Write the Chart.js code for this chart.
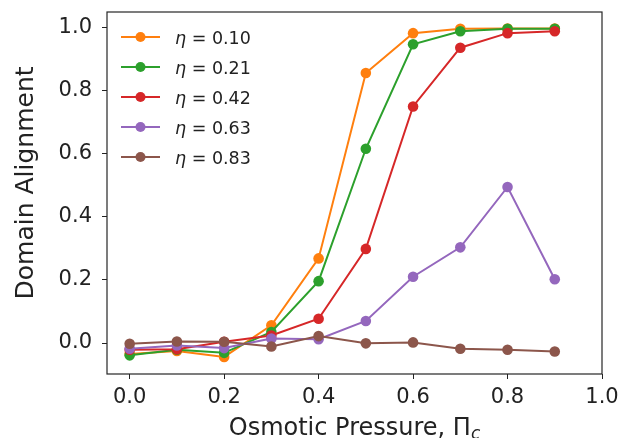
<!DOCTYPE html>
<html>
<head>
<meta charset="utf-8">
<script src="https://cdn.jsdelivr.net/npm/chart.js@4/dist/chart.umd.min.js"></script>
<style>
  html, body { margin: 0; padding: 0; background: #ffffff; }
  #wrap { width: 620px; height: 438px; }
</style>
</head>
<body>
<div id="wrap"><canvas id="c" width="620" height="438"></canvas></div>
<script>
// ---- data ----
const osmoticPressure = [0.0, 0.1, 0.2, 0.3, 0.4, 0.5, 0.6, 0.7, 0.8, 0.9];
const etaLabels = ['0.10', '0.21', '0.42', '0.63', '0.83'];
const eta010 = [-0.035, -0.025, -0.044, 0.056, 0.268, 0.855, 0.981, 0.995, 0.996, 0.996];
const eta021 = [-0.039, -0.021, -0.031, 0.035, 0.196, 0.615, 0.946, 0.987, 0.995, 0.995];
const eta042 = [-0.021, -0.020, 0.004, 0.024, 0.077, 0.298, 0.749, 0.935, 0.981, 0.987];
const eta063 = [-0.018, -0.008, -0.016, 0.014, 0.012, 0.070, 0.210, 0.303, 0.494, 0.202];
const eta083 = [-0.002, 0.005, 0.004, -0.011, 0.022, -0.001, 0.002, -0.018, -0.021, -0.027];
const xTicks = [0.0, 0.2, 0.4, 0.6, 0.8, 1.0];
const yTicks = [0.0, 0.2, 0.4, 0.6, 0.8, 1.0];
const xTitle = 'Osmotic Pressure, ';
const xTitleSymbol = 'Π';
const xTitleSub = 'c';
const yTitle = 'Domain Alignment';

const seriesValues = [eta010, eta021, eta042, eta063, eta083];
const seriesColors = ['#ff7f0e', '#2ca02c', '#d62728', '#9467bd', '#8c564b'];

const FONT = '"DejaVu Sans", sans-serif';

const datasets = seriesValues.map((vals, i) => ({
  label: 'η = ' + etaLabels[i],
  data: vals.map((v, j) => ({ x: osmoticPressure[j], y: v })),
  borderColor: seriesColors[i],
  backgroundColor: seriesColors[i],
  pointBackgroundColor: seriesColors[i],
  pointBorderColor: seriesColors[i],
  borderWidth: 2,
  pointRadius: 5.3,
  pointBorderWidth: 0,
  tension: 0,
  fill: false,
  order: seriesValues.length - i
}));

// frame + legend + axis titles
const decor = {
  id: 'decor',
  afterDraw(chart) {
    const ctx = chart.ctx;
    const a = chart.chartArea;
    ctx.save();
    // frame
    ctx.strokeStyle = '#262626';
    ctx.lineWidth = 1.2;
    ctx.strokeRect(a.left, a.top, a.right - a.left, a.bottom - a.top);

    // legend
    const x0 = a.left + 14, x1 = a.left + 53, tx = a.left + 68;
    const rowY0 = a.top + 25, rowH = 30;
    chart.data.datasets.forEach((ds, i) => {
      const y = rowY0 + i * rowH;
      ctx.strokeStyle = ds.borderColor;
      ctx.lineWidth = 2;
      ctx.beginPath(); ctx.moveTo(x0, y); ctx.lineTo(x1, y); ctx.stroke();
      ctx.fillStyle = ds.borderColor;
      ctx.beginPath(); ctx.arc((x0 + x1) / 2, y, 5, 0, Math.PI * 2); ctx.fill();
      ctx.fillStyle = '#222';
      ctx.textBaseline = 'alphabetic';
      ctx.textAlign = 'left';
      const parts = ds.label.split(' = ');
      ctx.font = 'oblique 17.5px ' + FONT;
      ctx.fillText(parts[0], tx, y + 6.5);
      const w = ctx.measureText(parts[0]).width;
      ctx.font = '17.5px ' + FONT;
      ctx.fillText(' = ' + parts[1], tx + w, y + 6.5);
    });

    // x title
    ctx.fillStyle = '#222';
    ctx.textBaseline = 'alphabetic';
    ctx.textAlign = 'left';
    ctx.font = '24px ' + FONT;
    const w1 = ctx.measureText(xTitle).width;
    const w2 = ctx.measureText(xTitleSymbol).width;
    ctx.font = 'oblique 17px ' + FONT;
    const w3 = ctx.measureText(xTitleSub).width;
    const total = w1 + w2 + w3;
    let sx = (a.left + a.right) / 2 - total / 2;
    ctx.font = '24px ' + FONT;
    ctx.fillText(xTitle, sx, 434.5);
    ctx.fillText(xTitleSymbol, sx + w1, 434.5);
    ctx.font = 'oblique 17px ' + FONT;
    ctx.fillText(xTitleSub, sx + w1 + w2, 439);

    // y title
    ctx.translate(33, 183);
    ctx.rotate(-Math.PI / 2);
    ctx.font = '25px ' + FONT;
    ctx.textAlign = 'center';
    ctx.fillText(yTitle, 0, 0);
    ctx.restore();
  }
};

new Chart(document.getElementById('c'), {
  type: 'line',
  data: { datasets },
  options: {
    responsive: false,
    animation: false,
    devicePixelRatio: 1,
    layout: { padding: { left: 0, right: 18, top: 12, bottom: 0 } },
    plugins: { legend: { display: false }, tooltip: { enabled: false } },
    scales: {
      x: {
        type: 'linear',
        min: -0.048,
        max: 1.0,
        afterFit(scale) {
          scale.height = 64;
          scale.paddingLeft = 0; scale.paddingRight = 0;
        },
        afterBuildTicks(scale) { scale.ticks = xTicks.map(v => ({ value: v })); },
        grid: { drawOnChartArea: false, drawTicks: true, tickLength: 5, tickColor: '#222', tickWidth: 1 },
        border: { display: false },
        ticks: {
          color: '#222',
          font: { family: FONT, size: 21 },
          padding: 6,
          maxRotation: 0,
          callback: v => Number(v).toFixed(1)
        }
      },
      y: {
        type: 'linear',
        min: -0.098,
        max: 1.048,
        afterFit(scale) {
          scale.width = 107;
          scale.paddingTop = 0; scale.paddingBottom = 0;
        },
        afterBuildTicks(scale) { scale.ticks = yTicks.map(v => ({ value: v })); },
        grid: { drawOnChartArea: false, drawTicks: true, tickLength: 5, tickColor: '#222', tickWidth: 1 },
        border: { display: false },
        ticks: {
          color: '#222',
          font: { family: FONT, size: 21 },
          padding: 10,
          callback: v => Number(v).toFixed(1)
        }
      }
    }
  },
  plugins: [decor]
});
</script>
</body>
</html>
